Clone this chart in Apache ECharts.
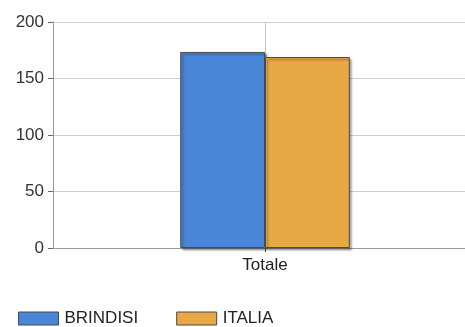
<!DOCTYPE html>
<html>
<head>
<meta charset="utf-8">
<script src="https://cdn.jsdelivr.net/npm/echarts@6/dist/echarts.min.js"></script>
<style>
  html, body { margin: 0; padding: 0; background: #fff; overflow: hidden; }
  /* the plot area continues a little past the right edge of the window */
  #chart { width: 477px; height: 327px; }
</style>
</head>
<body>
<div id="chart"></div>
<script>
// Categories and values
const categories = ['Totale'];
const brindisi = [173.5];
const italia = [169];
const seriesNames = ['BRINDISI', 'ITALIA'];
const yTicks = { min: 0, max: 200, interval: 50 };

const font = 'Liberation Sans, Arial, sans-serif';
const chart = echarts.init(document.getElementById('chart'));

const barStyle = (color) => ({
  color: color,
  borderColor: '#4a4a4a',
  borderWidth: 1,
  shadowColor: 'rgba(0,0,0,0.35)',
  shadowOffsetX: 2,
  shadowOffsetY: 2,
  shadowBlur: 2
});

chart.setOption({
  animation: false,
  grid: { left: 53, top: 22, right: 0, bottom: 79, containLabel: false },
  legend: {
    left: 18,
    top: 310,
    padding: 0,
    itemWidth: 40,
    itemHeight: 13,
    itemGap: 38,
    icon: 'rect',
    itemStyle: { borderColor: '#4a4a4a', borderWidth: 1 },
    textStyle: { fontFamily: font, fontSize: 17, color: '#222', padding: [0, 0, 0, 1] },
    data: seriesNames
  },
  xAxis: {
    type: 'category',
    data: categories,
    axisLine: { show: true, lineStyle: { color: '#999' } },
    axisTick: { show: true, alignWithLabel: true, length: 4, lineStyle: { color: '#555' } },
    axisLabel: { fontFamily: font, fontSize: 17, color: '#222', margin: 9 },
    // vertical grid line through the category centre
    splitLine: { show: true, alignWithLabel: true, lineStyle: { color: '#c8c8c8' } }
  },
  yAxis: {
    type: 'value',
    min: yTicks.min,
    max: yTicks.max,
    interval: yTicks.interval,
    axisLine: { show: true, lineStyle: { color: '#999' } },
    axisTick: { show: true, length: 5, lineStyle: { color: '#666' } },
    axisLabel: { fontFamily: font, fontSize: 17, color: '#333', margin: 9 },
    splitLine: { lineStyle: { color: '#d0d0d0' } }
  },
  series: [
    {
      name: seriesNames[0],
      type: 'bar',
      data: brindisi,
      barGap: '0%',
      barCategoryGap: '60%',
      itemStyle: barStyle('#4a86d8')
    },
    {
      name: seriesNames[1],
      type: 'bar',
      data: italia,
      itemStyle: barStyle('#e8a846')
    }
  ]
});
</script>
</body>
</html>
